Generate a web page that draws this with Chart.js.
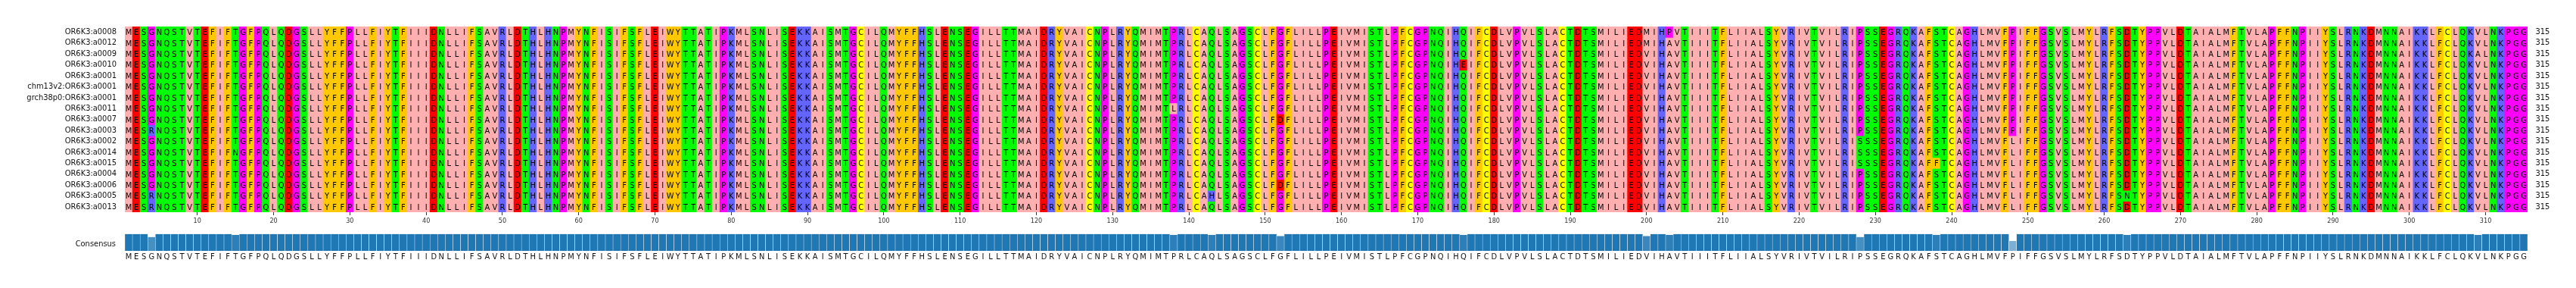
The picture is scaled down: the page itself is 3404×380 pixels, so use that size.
<!DOCTYPE html>
<html><head><meta charset="utf-8">
<script src="https://cdn.jsdelivr.net/npm/chart.js@4.4.1/dist/chart.umd.min.js"></script>
<style>
html,body{margin:0;padding:0;background:#fff;}
#wrap{position:relative;width:3404px;height:380px;overflow:hidden;background:#fff;}
#c1{position:absolute;left:0;top:0;}
#c2{position:absolute;left:0;top:290px;}
</style></head><body>
<div id="wrap"><canvas id="c1" width="3404" height="300"></canvas><canvas id="c2" width="3404" height="90"></canvas></div>
<script>
// ---------------- data ----------------
const seqNames = [
  "OR6K3:a0008", "OR6K3:a0012", "OR6K3:a0009", "OR6K3:a0010", "OR6K3:a0001",
  "chm13v2:OR6K3:a0001", "grch38p0:OR6K3:a0001", "OR6K3:a0011", "OR6K3:a0007",
  "OR6K3:a0003", "OR6K3:a0002", "OR6K3:a0014", "OR6K3:a0015", "OR6K3:a0004",
  "OR6K3:a0006", "OR6K3:a0005", "OR6K3:a0013"
];
const seqLengths = [315, 315, 315, 315, 315, 315, 315, 315, 315, 315, 315, 315, 315, 315, 315, 315, 315];

const sequences = [
  "MESGNQSTVT EFIFTGFPQL QDGSLLYFFP LLFIYTFIII DNLLIFSAVR LDTHLHNPMY NFISIFSFLE IWYTTATIPK MLSNLISEKK AISMTGCILQ MYFFHSLENS EGILLTTMAI DRYVAICNPL RYQMIMTPRL CAQLSAGSCL FGFLILLPEI VMISTLPFCG PNQIHQIFCD LVPVLSLACT DTSMILIEDM IHPVTIIITF LIIALSYVRI VTVILRIPSS EGRQKAFSTC AGHLMVFPIF FGSVSLMYLR FSDTYPPVLD TAIALMFTVL APFFNPIIYS LRNKDMNNAI KKLFCLQKVL NKPGG",
  "MESGNQSTVT EFIFTGFPQL QDGSLLYFFP LLFIYTFIII DNLLIFSAVR LDTHLHNPMY NFISIFSFLE IWYTTATIPK MLSNLISEKK AISMTGCILQ MYFFHSLENS EGILLTTMAI DRYVAICNPL RYQMIMTPRL CAQLSAGSCL FGFLILLPEI VMISTLPFCG PNQIHQIFCD LVPVLSLACT DTSMILIEDM IHAVTIIITF LIIALSYVRI VTVILRIPSS EGRQKAFSTC AGHLMVFPIF FGSVSLMYLR FSDTYPPVLD TAIALMFTVL APFFNPIIYS LRNKDMNNAI KKLFCLQKVL NKPGG",
  "MESGNQSTVT EFIFTGFPQL QDGSLLYFFP LLFIYTFIII DNLLIFSAVR LDTHLHNPMY NFISIFSFLE IWYTTATIPK MLSNLISEKK AISMTGCILQ MYFFHSLENS EGILLTTMAI DRYVAICNPL RYQMIMTPRL CAQLSAGSCL FGFLILLPEI VMISTLPFCG PNQIHQIFCD LVPVLSLACT DTSMILIEDV IHAVTIIITF LIIALSYVRI VTVILRIPSS EGRQKAFSTC AGHLMVFPIF FGSVSLMYLR FSDTYPPVLD TAIALMFTVL APFFNPIIYS LRNKDMNNAI KKLFCLQKAL NKPGG",
  "MESGNQSTVT EFIFTGFPQL QDGSLLYFFP LLFIYTFIII DNLLIFSAVR LDTHLHNPMY NFISIFSFLE IWYTTATIPK MLSNLISEKK AISMTGCILQ MYFFHSLENS EGILLTTMAI DRYVAICNPL RYQMIMTPRL CAQLSAGSCL FGFLILLPEI VMISTLPFCG PNQIHEIFCD LVPVLSLACT DTSMILIEDV IHAVTIIITF LIIALSYVRI VTVILRIPSS EGRQKAFSTC AGHLMVFPIF FGSVSLMYLR FSDTYPPVLD TAIALMFTVL APFFNPIIYS LRNKDMNNAI KKLFCLQKVL NKPGG",
  "MESGNQSTVT EFIFTGFPQL QDGSLLYFFP LLFIYTFIII DNLLIFSAVR LDTHLHNPMY NFISIFSFLE IWYTTATIPK MLSNLISEKK AISMTGCILQ MYFFHSLENS EGILLTTMAI DRYVAICNPL RYQMIMTPRL CAQLSAGSCL FGFLILLPEI VMISTLPFCG PNQIHQIFCD LVPVLSLACT DTSMILIEDV IHAVTIIITF LIIALSYVRI VTVILRIPSS EGRQKAFSTC AGHLMVFPIF FGSVSLMYLR FSDTYPPVLD TAIALMFTVL APFFNPIIYS LRNKDMNNAI KKLFCLQKVL NKPGG",
  "MESGNQSTVT EFIFTGFPQL QDGSLLYFFP LLFIYTFIII DNLLIFSAVR LDTHLHNPMY NFISIFSFLE IWYTTATIPK MLSNLISEKK AISMTGCILQ MYFFHSLENS EGILLTTMAI DRYVAICNPL RYQMIMTPRL CAQLSAGSCL FGFLILLPEI VMISTLPFCG PNQIHQIFCD LVPVLSLACT DTSMILIEDV IHAVTIIITF LIIALSYVRI VTVILRIPSS EGRQKAFSTC AGHLMVFPIF FGSVSLMYLR FSDTYPPVLD TAIALMFTVL APFFNPIIYS LRNKDMNNAI KKLFCLQKVL NKPGG",
  "MESGNQSTVT EFIFTGFPQL QDGSLLYFFP LLFIYTFIII DNLLIFSAVR LDTHLHNPMY NFISIFSFLE IWYTTATIPK MLSNLISEKK AISMTGCILQ MYFFHSLENS EGILLTTMAI DRYVAICNPL RYQMIMTPRL CAQLSAGSCL FGFLILLPEI VMISTLPFCG PNQIHQIFCD LVPVLSLACT DTSMILIEDV IHAVTIIITF LIIALSYVRI VTVILRIPSS EGRQKAFSTC AGHLMVFPIF FGSVSLMYLR FSDTYPPVLD TAIALMFTVL APFFNPIIYS LRNKDMNNAI KKLFCLQKVL NKPGG",
  "MESGNQSTVT EFIFTGFPQL QDGSLLYFFP LLFIYTFIII DNLLIFSAVR LDTHLHNPMY NFISIFSFLE IWYTTATIPK MLSNLISEKK AISMTGCILQ MYFFHSLENS EGILLTTMAI DRYVAICNPL RYQMIMTLRL CAQLSAGSCL FGFLILLPEI VMISTLPFCG PNQIHQIFCD LVPVLSLACT DTSMILIEDV IHAVTIIITF LIIALSYVRI VTVILRIPSS EGRQKAFSTC AGHLMVFPIF FGSVSLMYLR FSDTYPPVLD TAIALMFTVL APFFNPIIYS LRNKDMNNAI KKLFCLQKVL NKPGG",
  "MESGNQSTVT EFIFTGFPQL QDGSLLYFFP LLFIYTFIII DNLLIFSAVR LDTHLHNPMY NFISIFSFLE IWYTTATIPK MLSNLISEKK AISMTGCILQ MYFFHSLENS EGILLTTMAI DRYVAICNPL RYQMIMTPRL CAQLSAGSCL FDFLILLPEI VMISTLPFCG PNQIHQIFCD LVPVLSLACT DTSMILIEDV IHAVTIIITF LIIALSYVRI VTVILRIPSS EGRQKAFSTC AGHLMVFPIF FGSVSLMYLR FSDTYPPVLD TAIALMFTVL APFFNPIIYS LRNKDMNNAI KKLFCLQKVL NKPGG",
  "MESRNQSTVT EFIFTGFPQL QDGSLLYFFP LLFIYTFIII DNLLIFSAVR LDTHLHNPMY NFISIFSFLE IWYTTATIPK MLSNLISEKK AISMTGCILQ MYFFHSLENS EGILLTTMAI DRYVAICNPL RYQMIMTPRL CAQLSAGSCL FGFLILLPEI VMISTLPFCG PNQIHQIFCD LVPVLSLACT DTSMILIEDV IHAVTIIITF LIIALSYVRI VTVILRIPSS EGRQKAFSTC AGHLMVFPIF FGSVSLMYLR FSDTYPPVLD TAIALMFTVL APFFNPIIYS LRNKDMNNAI KKLFCLQKVL NKPGG",
  "MESGNQSTVT EFIFTGFPQL QDGSLLYFFP LLFIYTFIII DNLLIFSAVR LDTHLHNPMY NFISIFSFLE IWYTTATIPK MLSNLISEKK AISMTGCILQ MYFFHSLENS EGILLTTMAI DRYVAICNPL RYQMIMTPRL CAQLSAGSCL FGFLILLPEI VMISTLPFCG PNQIHQIFCD LVPVLSLACT DTSMILIEDV IHAVTIIITF LIIALSYVRI VTVILRISSS EGRQKAFSTC AGHLMVFLIF FGSVSLMYLR FSDTYPPVLD TAIALMFTVL APFFNPIIYS LRNKDMNNAI KKLFCLQKVL NKPGG",
  "MESGNQSTVT EFIFNGFPQL QDGSLLYFFP LLFIYTFIII DNLLIFSAVR LDTHLHNPMY NFISIFSFLE IWYTTATIPK MLSNLISEKK AISMTGCILQ MYFFHSLENS EGILLTTMAI DRYVAICNPL RYQMIMTPRL CAQLSAGSCL FGFLILLPEI VMISTLPFCG PNQIHQIFCD LVPVLSLACT DTSMILIEDV IHAVTIIITF LIIALSYVRI VTVILRISSS EGRQKAFSTC AGHLMVFLIF FGSVSLMYLR FSDTYPPVLD TAIALMFTVL APFFNPIIYS LRNKDMNNAI KKLFCLQKVL NKPGG",
  "MESGNQSTVT EFIFTGFPQL QDGSLLYFFP LLFIYTFIII DNLLIFSAVR LDTHLHNPMY NFISIFSFLE IWYTTATIPK MLSNLISEKK AISMTGCILQ MYFFHSLENS EGILLTTMAI DRYVAICNPL RYQMIMTPRL CAQLSAGSCL FGFLILLPEI VMISTLPFCG PNQIHQIFCD LVPVLSLACT DTSMILIEDV IHAVTIIITF LIIALSYVRI VTVILRISSS EGRQKAFFTC AGHLMVFLIF FGSVSLMYLR FSDTYPPVLD TAIALMFTVL APFFNPIIYS LRNKDMNNAI KKLFCLQKVL NKPGG",
  "MESGNQSTVT EFIFTGFPQL QDGSLLYFFP LLFIYTFIII DNLLIFSAVR LDTHLHNPMY NFISIFSFLE IWYTTATIPK MLSNLISEKK AISMTGCILQ MYFFHSLENS EGILLTTMAI DRYVAICNPL RYQMIMTPRL CAQLSAGSCL FGFLILLPEI VMISTLPFCG PNQIHQIFCD LVPVLSLACT DTSMILIEDV IHAVTIIITF LIIALSYVRI VTVILRIPSS EGRQKAFSTC AGHLMVFLIF FGSVSLMYLR FSDTYPPVLD TAIALMFTVL APFFNPIIYS LRNKDMNNAI KKLFCLQKVL NKPGG",
  "MESGNQSTVT EFIFTGFPQL QDGSLLYFFP LLFIYTFIII DNLLIFSAVR LDTHLHNPMY NFISIFSFLE IWYTTATIPK MLSNLISEKK AISMTGCILQ MYFFHSLENS EGILLTTMAI DRYVAICNPL RYQMIMTPRL CAQLSAGSCL FDFLILLPEI VMISTLPFCG PNQIHQIFCD LVPVLSLACT DTSMILIEDV IHAVTIIITF LIIALSYVRI VTVILRIPSS EGRQKAFSTC AGHLMVFLIF FGSVSLMYLR FSDTYPPVLD TAIALMFTVL APFFNPIIYS LRNKDMNNAI KKLFCLQKVL NKPGG",
  "MESRNQSTVT EFIFTGFPQL QDGSLLYFFP LLFIYTFIII DNLLIFSAVR LDTHLHNPMY NFISIFSFLE IWYTTATIPK MLSNLISEKK AISMTGCILQ MYFFHSLENS EGILLTTMAI DRYVAICNPL RYQMIMTPRL CAHLSAGSCL FGFLILLPEI VMISTLPFCG PNQIHQIFCD LVPVLSLACT DTSMILIEDV IHAVTIIITF LIIALSYVRI VTVILRIPSS EGRQKAFSTC AGHLMVFLIF FGSVSLMYLR FSNTYPPVLD TAIALMFTVL APFFNPIIYS LRNKDMNNAI KKLFCLQKVL NKPGG",
  "MESRNQSTVT EFIFTGFPQL QDGSLLYFFP LLFIYTFIII DNLLIFSAVR LDTHLHNPMY NFISIFSFLE IWYTTATIPK MLSNLISEKK AISMTGCILQ MYFFHSLENS EGILLTTMAI DRYVAICNPL RYQMIMTPRL CAQLSAGSCL FGFLILLPEI VMISTLPFCG PNQIHQIFCD LVPVLSLACT DTSMILIEDV IHAVTIIITF LIIALSYVRI VTVILRIPSS EGRQKAFSTC AGHLMVFLIF FGSVSLMYLR FSDTYPPVLD TAIALMFTVL APFFNPIIYS LRNKDMNNAI KKLFCLQKVL NKPGG"
].map(s => s.replace(/ /g, ""));

const consensusSeq = ("MESGNQSTVT EFIFTGFPQL QDGSLLYFFP LLFIYTFIII DNLLIFSAVR LDTHLHNPMY NFISIFSFLE IWYTTATIPK MLSNLISEKK AISMTGCILQ " +
  "MYFFHSLENS EGILLTTMAI DRYVAICNPL RYQMIMTPRL CAQLSAGSCL FGFLILLPEI VMISTLPFCG PNQIHQIFCD LVPVLSLACT DTSMILIEDV " +
  "IHAVTIIITF LIIALSYVRI VTVILRIPSS EGRQKAFSTC AGHLMVFPIF FGSVSLMYLR FSDTYPPVLD TAIALMFTVL APFFNPIIYS LRNKDMNNAI " +
  "KKLFCLQKVL NKPGG").replace(/ /g, "");

// consensus identity (%) per column
const consensusIdentity = [
  100,100,100,82.4,100,100,100,100,100,100,   100,100,100,100,94.1,100,100,100,100,100,
  100,100,100,100,100,100,100,100,100,100,    100,100,100,100,100,100,100,100,100,100,
  100,100,100,100,100,100,100,100,100,100,    100,100,100,100,100,100,100,100,100,100,
  100,100,100,100,100,100,100,100,100,100,    100,100,100,100,100,100,100,100,100,100,
  100,100,100,100,100,100,100,100,100,100,    100,100,100,100,100,100,100,100,100,100,
  100,100,100,100,100,100,100,100,100,100,    100,100,100,100,100,100,100,100,100,100,
  100,100,100,100,100,100,100,100,100,100,    100,100,100,100,100,100,100,94.1,100,100,
  100,100,94.1,100,100,100,100,100,100,100,   100,88.2,100,100,100,100,100,100,100,100,
  100,100,100,100,100,100,100,100,100,100,    100,100,100,100,100,94.1,100,100,100,100,
  100,100,100,100,100,100,100,100,100,100,    100,100,100,100,100,100,100,100,100,88.2,
  100,100,94.1,100,100,100,100,100,100,100,   100,100,100,100,100,100,100,100,100,100,
  100,100,100,100,100,100,100,82.4,100,100,   100,100,100,100,100,100,100,94.1,100,100,
  100,100,100,100,100,100,100,58.8,100,100,   100,100,100,100,100,100,100,100,100,100,
  100,100,94.1,100,100,100,100,100,100,100,   100,100,100,100,100,100,100,100,100,100,
  100,100,100,100,100,100,100,100,100,100,    100,100,100,100,100,100,100,100,100,100,
  100,100,100,100,100,100,100,100,94.1,100,   100,100,100,100,100
];

const xTickValues = [10,20,30,40,50,60,70,80,90,100,110,120,130,140,150,160,170,180,190,200,210,220,230,240,250,260,270,280,290,300,310];
const consensusTitle = "Consensus";

// ---------------- styling ----------------
const FONT = '"DejaVu Sans Condensed", "DejaVu Sans", sans-serif';
const zappo = {};
for (const c of "ILVAM") zappo[c] = "#ffafaf";
for (const c of "FWY") zappo[c] = "#ffc800";
for (const c of "KRH") zappo[c] = "#6464ff";
for (const c of "DE") zappo[c] = "#ff0000";
for (const c of "STNQ") zappo[c] = "#00ff00";
for (const c of "PG") zappo[c] = "#ff00ff";
zappo["C"] = "#ffff00";

function identityColor(v) {
  const t = v / 100, base = [31, 119, 180];
  const c = base.map(b => Math.round(255 + (b - 255) * t));
  return `rgb(${c[0]},${c[1]},${c[2]})`;
}

Chart.defaults.font.family = FONT;

// ---------------- chart 1 : alignment ----------------
const rowIndex = seqNames.map((_, i) => i);
const datasets = sequences.map((s, r) => ({
  label: seqNames[r],
  data: Array.from(s, (ch, i) => ({ x: i + 1, y: [r - 0.5, r + 0.5] })),
  backgroundColor: Array.from(s, ch => zappo[ch] || "#ffffff"),
  borderWidth: 0,
  barPercentage: 1,
  categoryPercentage: 1,
  grouped: false
}));

const letterPlugin = {
  id: "cellLetters",
  afterDatasetsDraw(chart) {
    const { ctx, scales: { x, y } } = chart;
    ctx.save();
    ctx.font = "11px " + FONT;
    ctx.textAlign = "center";
    ctx.textBaseline = "alphabetic";
    ctx.fillStyle = "#000";
    sequences.forEach((s, r) => {
      const py = y.getPixelForValue(r) + 4;
      for (let i = 0; i < s.length; i++) ctx.fillText(s[i], x.getPixelForValue(i + 1), py);
    });
    ctx.restore();
  }
};

new Chart(document.getElementById("c1"), {
  type: "bar",
  data: { datasets },
  options: {
    responsive: false, animation: false, events: [],
    layout: { padding: { top: 35, left: 0, right: 0, bottom: 0 } },
    plugins: { legend: { display: false }, tooltip: { enabled: false } },
    scales: {
      x: {
        type: "linear", min: 0.5, max: 315.5, offset: false,
        afterBuildTicks: s => { s.ticks = xTickValues.map(v => ({ value: v })); },
        afterFit: s => { s.height = 20; },
        ticks: { font: { size: 9 }, color: "#333", padding: 2.5, maxRotation: 0, autoSkip: false },
        grid: { display: true, drawOnChartArea: false, drawTicks: true, tickLength: 4, color: "#333", offset: false },
        border: { display: false }
      },
      y: {
        type: "linear", position: "left", reverse: true, min: -0.5, max: 16.5,
        afterBuildTicks: s => { s.ticks = rowIndex.map(v => ({ value: v })); },
        afterFit: s => { s.width = 165; },
        ticks: { callback: v => seqNames[v], font: { size: 11 }, color: "#111", padding: 11, autoSkip: false },
        grid: { display: false, drawTicks: false },
        border: { display: false }
      },
      y2: {
        type: "linear", position: "right", reverse: true, min: -0.5, max: 16.5,
        afterBuildTicks: s => { s.ticks = rowIndex.map(v => ({ value: v })); },
        afterFit: s => { s.width = 64; },
        ticks: { callback: v => String(seqLengths[v]), font: { size: 11 }, color: "#111", padding: 10.5, autoSkip: false },
        grid: { display: false, drawTicks: false },
        border: { display: false }
      }
    }
  },
  plugins: [letterPlugin]
});

// ---------------- chart 2 : consensus ----------------
new Chart(document.getElementById("c2"), {
  type: "bar",
  data: {
    labels: Array.from(consensusSeq),
    datasets: [{
      data: consensusIdentity,
      backgroundColor: consensusIdentity.map(identityColor),
      borderColor: "#ffffff",
      borderWidth: 0.5,
      barPercentage: 1,
      categoryPercentage: 1
    }]
  },
  options: {
    responsive: false, animation: false, events: [],
    layout: { padding: { top: 12, left: 0, right: 64, bottom: 0 } },
    plugins: { legend: { display: false }, tooltip: { enabled: false } },
    scales: {
      x: {
        type: "category",
        afterFit: s => { s.height = 49; },
        ticks: { autoSkip: false, maxRotation: 0, minRotation: 0, font: { size: 11 }, color: "#111", padding: 1.5 },
        grid: { display: false, drawTicks: false },
        border: { display: false }
      },
      y: {
        min: 0, max: 100,
        afterBuildTicks: s => { s.ticks = [{ value: 41 }]; },
        afterFit: s => { s.width = 165; },
        ticks: { callback: () => consensusTitle, font: { size: 11 }, color: "#111", padding: 12 },
        grid: { display: false, drawTicks: false },
        border: { display: false }
      }
    }
  }
});
</script>
</body></html>
